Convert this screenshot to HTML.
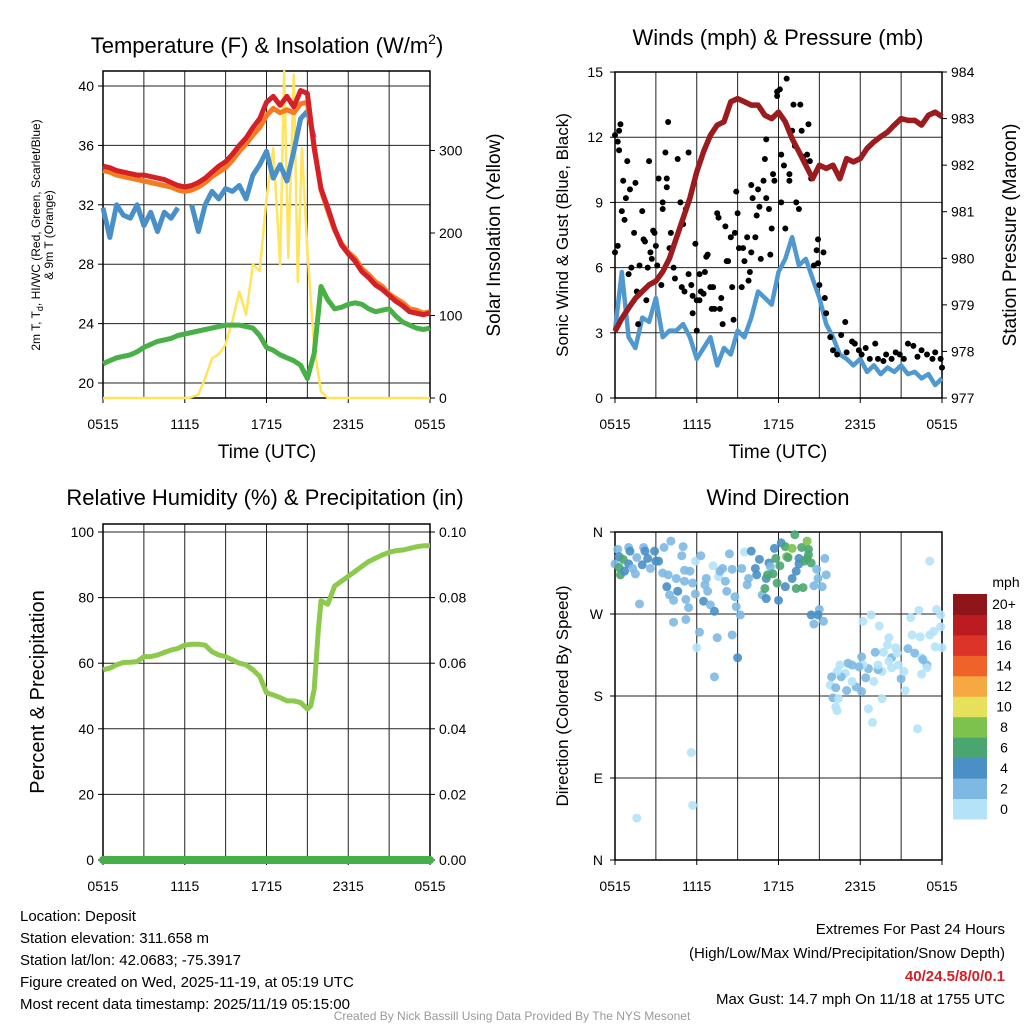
<!DOCTYPE html>
<html><head><meta charset="utf-8"><style>
body{margin:0;background:#fff}
svg{display:block;font-family:"Liberation Sans",sans-serif}
</style></head><body>
<svg id="c" width="1024" height="1024" viewBox="0 0 1024 1024" xmlns="http://www.w3.org/2000/svg">
<rect width="1024" height="1024" fill="#fff"/>
<text x="267" y="53" font-size="22" text-anchor="middle">Temperature (F) &amp; Insolation (W/m<tspan dy="-9" font-size="14">2</tspan><tspan dy="9">)</tspan></text>
<text x="778" y="45" font-size="22" text-anchor="middle">Winds (mph) &amp; Pressure (mb)</text>
<text x="265" y="505" font-size="22" text-anchor="middle">Relative Humidity (%) &amp; Precipitation (in)</text>
<text x="778" y="505" font-size="22" text-anchor="middle">Wind Direction</text>

<text transform="translate(40,235) rotate(-90)" font-size="12" text-anchor="middle">2m T, T<tspan font-size="9" dy="3">d</tspan><tspan dy="-3">, HI/WC (Red, Green, Scarlet/Blue)</tspan></text>
<text transform="translate(53,235) rotate(-90)" font-size="12" text-anchor="middle">&amp; 9m T (Orange)</text>
<text transform="translate(500,235) rotate(-90)" font-size="19" text-anchor="middle">Solar Insolation (Yellow)</text>
<text transform="translate(568,235) rotate(-90)" font-size="17" text-anchor="middle">Sonic Wind &amp; Gust (Blue, Black)</text>
<text transform="translate(1016,235) rotate(-90)" font-size="19" text-anchor="middle">Station Pressure (Maroon)</text>
<text transform="translate(44,692) rotate(-90)" font-size="20" text-anchor="middle">Percent &amp; Precipitation</text>
<text transform="translate(568,696) rotate(-90)" font-size="17" text-anchor="middle">Direction (Colored By Speed)</text>
<text x="267" y="458" font-size="19" text-anchor="middle">Time (UTC)</text>
<text x="778" y="458" font-size="19" text-anchor="middle">Time (UTC)</text>

<g font-size="15">
<text x="20" y="921">Location: Deposit</text>
<text x="20" y="943">Station elevation: 311.658 m</text>
<text x="20" y="965">Station lat/lon: 42.0683; -75.3917</text>
<text x="20" y="987">Figure created on Wed, 2025-11-19, at 05:19 UTC</text>
<text x="20" y="1009">Most recent data timestamp: 2025/11/19 05:15:00</text>
</g>
<g font-size="15" text-anchor="end">
<text x="1005" y="934">Extremes For Past 24 Hours</text>
<text x="1005" y="958">(High/Low/Max Wind/Precipitation/Snow Depth)</text>
<text x="1005" y="981" fill="#d42027" font-weight="bold">40/24.5/8/0/0.1</text>
<text x="1005" y="1004">Max Gust: 14.7 mph On 11/18 at 1755 UTC</text>
</g>
<text x="512" y="1020" font-size="12" fill="#999" text-anchor="middle">Created By Nick Bassill Using Data Provided By The NYS Mesonet</text>
</svg>
<script>
// ---- data ----
const halfHours = [0,0.5,1,1.5,2,2.5,3,3.5,4,4.5,5,5.5,6,6.5,7,7.5,8,8.5,9,9.5,10,10.5,11,11.5,12,12.5,13,13.5,14,14.5,15,15.5,16,16.5,17,17.5,18,18.5,19,19.5,20,20.5,21,21.5,22,22.5,23,23.5,24];
const timeLabels = ["0515","1115","1715","2315","0515"];
const tempRed = [34.6,34.5,34.3,34.2,34.1,34.0,34.0,33.9,33.8,33.7,33.5,33.3,33.2,33.3,33.5,33.8,34.2,34.6,34.9,35.4,36.0,36.5,37.2,37.8,38.9,39.3,38.7,39.3,38.6,39.7,39.5,35.8,33.1,31.8,30.4,29.3,28.7,28.2,27.5,27.1,26.6,26.3,25.9,25.5,25.2,24.8,24.7,24.6,24.7];
const temp9m = [34.3,34.2,34.0,33.9,33.8,33.7,33.6,33.5,33.4,33.3,33.2,33.0,32.9,33.0,33.2,33.5,33.9,34.2,34.5,35.0,35.6,36.1,36.7,37.2,38.0,38.5,38.2,38.4,38.2,38.8,38.9,36.0,33.0,31.6,30.3,29.4,28.8,28.4,27.7,27.3,26.8,26.5,26.0,25.7,25.4,25.0,24.9,24.7,24.8];
const windChill = [31.8,29.8,32.0,31.3,31.1,32.0,30.6,31.5,30.2,31.5,31.1,31.8,null,32.0,30.2,32.0,32.9,32.4,33.1,32.9,33.3,32.4,34.0,34.7,35.6,33.8,34.7,33.6,35.6,37.8,38.3,36.5,null,null,null,null,null,null,null,null,null,null,null,null,null,null,null,null,null];
const dewPoint = [21.3,21.5,21.7,21.8,21.9,22.1,22.4,22.6,22.8,22.9,23.0,23.2,23.3,23.4,23.5,23.6,23.7,23.8,23.9,23.9,23.9,23.8,23.7,23.2,22.4,22.2,21.9,21.7,21.5,21.2,20.3,22,26.5,25.6,25.0,25.1,25.3,25.4,25.3,25.0,24.8,24.9,25.0,24.5,24.1,23.9,23.7,23.6,23.7];
const solarTimes = [0,6.3,7,7.5,8,8.5,9,9.5,10,10.5,11,11.5,12,12.5,13,13.3,13.6,14,14.3,14.6,15,15.5,16,16.5,24];
const solarValues = [0,0,4,24,48,53,65,93,129,101,162,154,242,303,162,396,170,392,141,303,178,61,8,0,0];
const pressure = [978.43,978.71,978.93,979.14,979.29,979.43,979.51,979.71,980,980.43,980.86,981.29,981.86,982.29,982.64,982.86,982.93,983.36,983.43,983.36,983.29,983.29,983.07,983,983.14,982.93,982.57,982.29,982,981.71,982,981.93,982,981.71,982.14,982.07,982.14,982.36,982.5,982.61,982.71,982.86,983,982.96,982.96,982.86,983.07,983.14,983.04];
const windSpeed = [3.1,5.8,2.8,2.3,3.7,3.5,4.6,2.8,3.1,3.1,3.4,2.8,1.8,2.3,2.8,1.5,2.3,2,3.1,2.8,3.7,4.9,4.6,4.3,5.8,6.4,7.4,6.1,6.4,5.5,4.6,3.4,2.8,2,1.8,1.5,1.8,1.2,1.5,1.1,1.4,1.2,1.5,1.1,1.2,0.9,1.1,0.6,0.9];
const gustTimes = [0,0,0.2,0.3,0.3,0.4,0.6,0.5,0.7,0.8,0.9,1.1,0.2,1,1.2,1.4,1.5,1.6,1.7,1.8,2,2.1,2.2,2.3,2.4,2.5,2.6,2.7,2.8,2.9,3,3.1,3.2,3.4,3.5,3.5,3.7,3.8,3.8,3.9,4,4.1,4.3,4.4,4.6,4.8,4.9,5,5.1,5.2,5.4,5.4,5.6,5.7,5.7,5.9,6,6,6.2,6.2,6.3,6.5,6.6,6.7,6.8,7,7.1,7.2,7.3,7.5,7.6,7.7,7.8,7.9,8.1,8.2,8.3,8.5,8.6,8.7,8.8,8.9,9,9.1,9.3,9.4,9.5,9.7,9.8,9.9,10,10,10.1,10.3,10.4,10.5,10.6,10.7,10.9,11,11.1,11.1,11.3,11.4,11.5,11.6,11.7,11.9,11.9,12.1,12.2,12.2,12.4,12.5,12.6,12.8,12.8,13,13.1,13.2,13.3,13.5,13.6,13.7,13.8,13.9,14.1,14.2,14.3,14.4,14.6,14.8,14.9,14.9,15,15.3,15.4,15.5,15.8,16,16.3,16.6,16.9,17,17.4,17.6,17.9,18.1,18.4,18.7,19.1,19.3,19.7,19.9,20.3,20.6,20.9,21.2,21.5,21.9,22.2,22.5,22.9,23.3,23.5,23.9,24];
const gustValues = [6.7,12.1,11.8,11.4,12.3,12.6,10,8.6,8.2,9.2,10.9,9.6,7,5.7,6,7.6,9.9,4.9,3.4,6.1,8.6,7.3,7.2,4.5,6,10.9,6.7,6.4,7.7,7.6,7,6.1,10.1,5.2,9,8.7,11.3,9.7,10.1,12.7,6.9,7.6,6,5.5,11,9,5.1,8,4.9,8.7,5.7,11.3,5.2,3.9,4.7,7.1,4.5,3.1,4.5,5.7,4.9,4.8,5.8,6.5,6.6,5.1,4.1,5.1,4.1,8.5,8.3,4.1,4.6,3.4,7.9,6.3,6.3,7.4,5.1,3.6,7.6,9.5,8.5,6.9,5.1,6.9,6.3,7.4,5.4,5.8,6.7,9.8,9.2,7.4,8.4,9.6,8.8,6.4,10,11,11.9,9.2,8.7,6.6,7.8,10.3,10,13.9,14.1,14.2,9,11.2,10.7,7.8,14.7,10.3,10,12.3,13.5,11.6,9,8.7,13.5,12.3,11.1,10.9,11.2,12.6,10.9,10.1,6.1,6.8,7.3,6.2,5.2,6.7,4.6,3.9,2.8,2.2,2,2.9,3.5,2.1,2.6,2.5,2.2,2,2.3,1.8,2.5,1.8,1.7,2,1.8,2.1,2,1.8,2.5,2.4,1.9,2.2,2,1.8,2.1,1.8,1.4];
const rhTimes = [0,0.5,1,1.5,2,2.5,3,3.5,4,4.5,5,5.5,6,6.5,7,7.5,8,8.5,9,9.5,10,10.5,11,11.5,12,12.5,13,13.5,14,14.5,15,15.25,15.5,15.8,16,16.5,17,17.5,18,18.5,19,19.5,20,20.5,21,21.5,22,22.5,23,23.5,24];
const rhValues = [58,58.5,59.5,60.2,60.3,60.5,62,62,62.5,63.3,64,64.5,65.5,65.8,65.8,65.5,63.5,62.5,62,61,60,59.5,58,56,51,50.3,49.5,48.5,48.5,48,46,47,52,70,79,78,83.5,85,86.5,88,89.5,91,92,93,93.8,94.3,94.5,95,95.5,95.8,95.8];
const precipTimes = [0,24];
const precipValues = [0,0];
const dirTimes = [0,0.2,0.3,0.6,0.3,0.4,0.7,1.0,1.1,1.0,1.3,1.5,1.6,2.0,2.1,2.2,2.4,2.6,2.9,3.0,3.2,3.6,3.5,3.8,3.9,4.1,4.0,4.3,4.5,4.6,4.9,5.0,5.1,5.1,5.2,5.4,5.5,5.7,5.9,5.9,6.3,6.5,6.6,6.7,6.8,7.0,7.2,7.3,7.6,7.7,7.9,8.1,8.2,8.4,8.6,8.8,8.9,9.2,9.3,9.5,9.7,9.8,10.0,10.3,10.4,10.6,10.8,11.0,11.1,11.1,11.3,11.4,11.2,11.6,11.7,11.8,11.9,12.0,12.1,12.2,12.5,12.5,12.6,12.7,13.0,13.0,13.2,13.3,13.3,13.5,13.5,13.7,13.8,13.9,14.1,14.1,14.2,14.2,14.4,14.6,14.8,14.9,15.0,15.2,15.4,15.5,15.3,14.4,14.9,14.6,1.8,4.3,5.2,6.2,7.5,8.6,9.0,7.3,6.0,5.6,5.7,1.6,
18.2,18.8,19.4,20.1,20.0,19.7,19.1,20.6,20.3,20.8,21.5,21.7,22.3,21.8,22.4,22.0,22.5,22.6,22.9,23.1,23.6,23.9,23.9,23.4,23.1,23.5,24.0,22.5,22.9,21.3,21.0,21.2,20.3,19.6,19.3,19.0,18.6,18.4,18.1,18.2,17.9,17.4,17.1,16.9,16.6,16.5,16.3,15.9,15.8,16.2,17.0,17.7,18.1,17.4,16.0,16.4,16.2,16.3,18.6,18.9,19.6,22.2,19.3,20.1,20.7];
const dirDegrees = [325,341,333,330,321,313,317,343,339,325,320,314,332,324,343,339,331,320,339,328,328,343,315,300,313,350,291,285,309,295,334,344,318,306,286,277,317,304,292,328,334,284,302,309,295,280,323,273,311,317,320,306,295,336,319,289,278,269,320,338,302,309,339,320,313,330,291,298,309,287,326,322,313,314,342,331,304,285,323,348,300,344,333,332,342,309,357,298,317,331,325,343,299,328,331,350,341,335,326,301,319,309,275,300,331,313,262,269,269,259,281,261,264,250,244,247,222,201,233,118,60,46,
262,269,257,244,236,228,228,233,222,214,232,266,274,247,245,227,222,220,214,328,275,269,256,251,247,234,233,204,211,186,199,207,211,207,209,196,210,200,223,214,212,214,216,205,201,214,207,201,192,189,186,190,185,196,178,177,168,164,166,151,177,144,214,218,227];
const dirSpeeds = [3,3,5,7,7,7,5,3,5,5,3,3,3,5,3,5,5,3,5,5,5,3,3,5,3,3,3,3,3,5,3,3,3,3,3,3,3,3,3,1,3,5,3,3,3,3,1,5,1,3,3,3,3,3,3,3,3,3,3,1,3,3,5,5,5,5,3,7,5,5,5,3,7,7,5,7,7,5,7,5,5,7,9,7,9,5,7,7,5,5,5,7,7,7,7,9,7,7,7,3,3,3,3,3,3,3,3,5,5,3,3,3,3,3,3,3,5,3,1,1,1,1,
1,1,1,1,1,1,3,1,3,1,3,1,1,1,1,3,1,3,3,1,1,1,1,1,1,1,1,1,1,1,3,1,1,1,3,1,3,3,3,1,3,3,3,1,3,1,1,3,1,3,3,3,3,1,3,1,1,1,1,1,1,1,1,1,1];
const speedBins = ["0","2","4","6","8","10","12","14","16","18","20+"];
const binColors = ["#b4e3f8","#7db9e3","#4a8fc6","#4aa670","#7cc24c","#e6e05a","#f6a942","#ef6229","#dc3428","#ba1c22","#8e1519"];

// ---- helpers ----
const svg = document.getElementById('c');
const NS = 'http://www.w3.org/2000/svg';
function mk(tag, attrs, parent){const e=document.createElementNS(NS,tag);for(const k in attrs)e.setAttribute(k,attrs[k]);(parent||svg).appendChild(e);return e;}
function lineXY(xs, ys, fx, fy){let d='',pen=false;for(let i=0;i<xs.length;i++){if(ys[i]===null||ys[i]===undefined){pen=false;continue;}d+=(pen?'L':'M')+fx(xs[i]).toFixed(1)+','+fy(ys[i]).toFixed(1);pen=true;}return d;}

function frame(P, name){
  const g = mk('g',{});
  
  
  for(let h=0;h<=24;h+=3){ const x=P.fx(h); mk('line',{x1:x,y1:P.top,x2:x,y2:P.bot,stroke:'#222','stroke-width':1},g); }
  P.hgrid.forEach(v=>{const y=P.fy(v); mk('line',{x1:P.x0,y1:y,x2:P.x1,y2:y,stroke:'#222','stroke-width':1},g);});
  mk('rect',{x:P.x0,y:P.top,width:P.x1-P.x0,height:P.bot-P.top,fill:'none',stroke:'#000','stroke-width':1.5},g);
  timeLabels.forEach((t,i)=>{
    const x=P.fx(i*6);
    mk('line',{x1:x,y1:P.bot,x2:x,y2:P.bot+5,stroke:'#000'},g);
    const tx=mk('text',{x:x,y:P.bot+P.lblOff,'font-size':14,'text-anchor':'middle'});
    tx.textContent=t;
    
    
  });
}
function leftTicks(P, vals, labels, name, xoff){
  vals.forEach((v,i)=>{const y=P.fy(v);
    mk('line',{x1:P.x0-5,y1:y,x2:P.x0,y2:y,stroke:'#000'});
    const t=mk('text',{x:P.x0-(xoff||9),y:y+5,'font-size':14,'text-anchor':'end'});
    t.textContent=labels[i];
    
    
  });
}
function rightTicks(P, fy2, vals, labels, name){
  vals.forEach((v,i)=>{const y=fy2(v);
    mk('line',{x1:P.x1,y1:y,x2:P.x1+5,y2:y,stroke:'#000'});
    const t=mk('text',{x:P.x1+9,y:y+5,'font-size':14,'text-anchor':'start'});
    t.textContent=labels[i];
    
    
  });
}

// ---- panel 1 ----
const P1={x0:103,x1:430,top:71,bot:398,lblOff:31,hgrid:[20,24,28,32,36,40]};
P1.fx=h=>P1.x0+h/24*(P1.x1-P1.x0);
P1.fy=v=>383-(v-20)*14.85;
const P1r=v=>398-v*0.825;
frame(P1,'temperature');
leftTicks(P1,[20,24,28,32,36,40],["20","24","28","32","36","40"],'temperature');
rightTicks(P1,P1r,[0,100,200,300],["0","100","200","300"],'solar');
let e;
e=mk('path',{d:lineXY(solarTimes,solarValues,P1.fx,P1r),fill:'none',stroke:'#ffe45c','stroke-width':2.5,'stroke-linejoin':'round'});


e=mk('path',{d:lineXY(halfHours,dewPoint,P1.fx,P1.fy),fill:'none',stroke:'#48b046','stroke-width':5,'stroke-linejoin':'round'});


e=mk('path',{d:lineXY(halfHours,windChill,P1.fx,P1.fy),fill:'none',stroke:'#4a90c8','stroke-width':5,'stroke-linejoin':'round'});


e=mk('path',{d:lineXY(halfHours,temp9m,P1.fx,P1.fy),fill:'none',stroke:'#f47b20','stroke-width':5,'stroke-linejoin':'round'});


e=mk('path',{d:lineXY(halfHours,tempRed,P1.fx,P1.fy),fill:'none',stroke:'#d42027','stroke-width':5,'stroke-linejoin':'round'});



// ---- panel 2 ----
const P2={x0:615,x1:942,top:72,bot:398,lblOff:31,hgrid:[0,3,6,9,12,15]};
P2.fx=h=>P2.x0+h/24*(P2.x1-P2.x0);
P2.fy=v=>398-v*21.73;
const P2r=p=>398-(p-977)*46.57;
frame(P2,'wind');
leftTicks(P2,[0,3,6,9,12,15],["0","3","6","9","12","15"],'wind',12);
rightTicks(P2,P2r,[977,978,979,980,981,982,983,984],["977","978","979","980","981","982","983","984"],'pressure');
e=mk('path',{d:lineXY(halfHours,windSpeed,P2.fx,P2.fy),fill:'none',stroke:'#5098d0','stroke-width':4.5,'stroke-linejoin':'round'});


gustTimes.forEach((t,i)=>{
  const c=mk('circle',{cx:P2.fx(t),cy:P2.fy(gustValues[i]),r:3,fill:'#000'});
  
  
});
e=mk('path',{d:lineXY(halfHours,pressure,P2.fx,P2r),fill:'none',stroke:'#9b1b1e','stroke-width':5.5,'stroke-linejoin':'round'});



// ---- panel 3 ----
const P3={x0:103,x1:430,top:524,bot:860,lblOff:31,hgrid:[0,20,40,60,80,100]};
P3.fx=h=>P3.x0+h/24*(P3.x1-P3.x0);
P3.fy=v=>860-v*3.28;
const P3r=v=>860-v*3280;
frame(P3,'humidity');
leftTicks(P3,[0,20,40,60,80,100],["0","20","40","60","80","100"],'humidity');
rightTicks(P3,P3r,[0,0.02,0.04,0.06,0.08,0.1],["0.00","0.02","0.04","0.06","0.08","0.10"],'precip');
e=mk('path',{d:lineXY(rhTimes,rhValues,P3.fx,P3.fy),fill:'none',stroke:'#8cc94c','stroke-width':5,'stroke-linejoin':'round'});


e=mk('path',{d:lineXY(precipTimes,precipValues,P3.fx,P3r),fill:'none',stroke:'#45b04a','stroke-width':8,'stroke-linecap':'round'});



// ---- panel 4 ----
const P4={x0:615,x1:942,top:532,bot:860,lblOff:31,hgrid:[0,90,180,270,360]};
P4.fx=h=>P4.x0+h/24*(P4.x1-P4.x0);
P4.fy=d=>860-d*0.9111;
frame(P4,'direction');
leftTicks(P4,[0,90,180,270,360],["N","E","S","W","N"],'direction',12);
function binOf(s){let b=Math.floor(s/2);return Math.max(0,Math.min(10,b));}
dirTimes.forEach((t,i)=>{
  const c=mk('circle',{cx:P4.fx(t),cy:P4.fy(dirDegrees[i]),r:4.5,fill:binColors[binOf(dirSpeeds[i])],'fill-opacity':0.9});
  
  
});
// colorbar
const cb=mk('g',{});


const cbTop=594, cbH=225/11;
speedBins.forEach((lab,i)=>{
  const y=cbTop+(10-i)*cbH;
  mk('rect',{x:953,y:y,width:34,height:cbH+0.5,fill:binColors[i]},cb);
  const t=mk('text',{x:1004,y:y+cbH/2+5,'font-size':14,'text-anchor':'middle'},cb);
  t.textContent=lab;
  
  
});
const mt=mk('text',{x:1006,y:587,'font-size':14,'text-anchor':'middle'},cb);
mt.textContent='mph';


</script>
</body></html>
